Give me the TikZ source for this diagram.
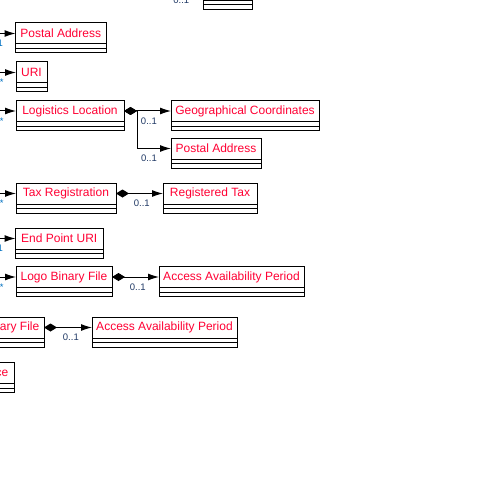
\documentclass[tikz,border=0pt]{standalone}
\usepackage{fontspec}
\setmainfont{Liberation Sans}
\definecolor{titlered}{HTML}{FF0033}
\definecolor{cardnavy}{HTML}{1F3864}
\definecolor{multblue}{HTML}{0070C0}
\usepackage{tikz}
\usetikzlibrary{arrows.meta, positioning, calc}

\tikzset{
  classbox/.style={draw, line width=1pt, anchor=north west, outer sep=0pt, inner sep=0pt,
    minimum height=21pt, font=\fontsize{12}{14}\selectfont, text=titlered},
  member/.style={-{Latex[length=11pt,width=7pt]}, line width=1pt},
  part/.style={{Diamond[length=13pt,width=8pt]}-{Latex[length=11pt,width=7pt]}, line width=1pt},
  card/.style={font=\fontsize{9.5}{10}\selectfont, text=cardnavy, inner sep=1pt, below=5pt},
  mult/.style={font=\fontsize{9.5}{10}\selectfont, text=multblue, inner sep=1pt, below=5pt},
}
\newcommand{\classparts}[1]{%
  \draw[line width=1pt] (#1.south west) rectangle ($(#1.south east)+(0,9)$);
  \draw[line width=1pt] ($(#1.south west)+(0,4.5)$) -- ($(#1.south east)+(0,4.5)$);}

\begin{document}
\begin{tikzpicture}[x=1pt, y=-1pt]
  \useasboundingbox (0,0) rectangle (500,500);
  \clip (0,0) rectangle (500,500);

  \node[classbox, minimum width=49pt] (tp) at (203,-20.5) {};
  \node[classbox, minimum width=90.5pt] (pa) at (15.5,23) {Postal Address};
  \node[classbox, minimum width=31pt] (uri) at (16,62) {URI};
  \node[classbox, minimum width=108pt] (ll) at (16,100.5) {Logistics Location};
  \node[classbox, minimum width=148pt] (geo) at (171,100.5) {Geographical Coordinates};
  \node[classbox, minimum width=90pt] (llpa) at (171,138) {Postal Address};
  \node[classbox, minimum width=100pt] (tax) at (16,183) {Tax Registration};
  \node[classbox, minimum width=94pt] (regtax) at (163,183) {Registered Tax};
  \node[classbox, minimum width=87.5pt] (epuri) at (15.5,228) {End Point URI};
  \node[classbox, minimum width=96pt] (logo) at (16,266.5) {Logo Binary File};
  \node[classbox, minimum width=145pt] (aap) at (159,266.5) {Access Availability Period};
  \node[classbox, minimum width=96pt] (logob) at (-52,317) {Logo Binary File};
  \node[classbox, minimum width=145pt] (aapb) at (92,317) {Access Availability Period};
  \node[classbox, minimum width=74.7pt, text width=62pt, align=right] (cebox) at (-60,362.5) {ce};

  \classparts{tp}
  \classparts{pa}
  \classparts{uri}
  \classparts{ll}
  \classparts{geo}
  \classparts{llpa}
  \classparts{tax}
  \classparts{regtax}
  \classparts{epuri}
  \classparts{logo}
  \classparts{aap}
  \classparts{logob}
  \classparts{aapb}
  \classparts{cebox}

  \coordinate (tpsrc) at (150,-10);
  \coordinate (pasrc) at (-20,33.5);
  \coordinate (urisrc) at (-20,72.5);
  \coordinate (llsrc) at (-20,111);
  \coordinate (taxsrc) at (-20,193.5);
  \coordinate (episrc) at (-20,238.5);
  \coordinate (logosrc) at (-20,277);

  \draw[part] (tpsrc) -- node[card, pos=0.59] {0..1} (tp.west);
  \draw[member] (pasrc) -- node[mult, pos=0.57] {1} (pa.west);
  \draw[member] (urisrc) -- node[mult, pos=0.6] {*} (uri.west);
  \draw[member] (llsrc) -- node[mult, pos=0.6] {*} (ll.west);
  \draw[member] (taxsrc) -- node[mult, pos=0.6] {*} (tax.west);
  \draw[member] (episrc) -- node[mult, pos=0.57] {1} (epuri.west);
  \draw[member] (logosrc) -- node[mult, pos=0.6] {*} (logo.west);

  \draw[part] (ll.east) -- node[card, pos=0.53] {0..1} (geo.west);
  \draw[part] (ll.east) -- ++(13,0) |- node[card, pos=0.676] {0..1} (llpa.west);
  \draw[part] (tax.east) -- node[card, pos=0.55] {0..1} (regtax.west);
  \draw[part] (logo.east) -- node[card, pos=0.55] {0..1} (aap.west);
  \draw[part] (logob.east) -- node[card, pos=0.56] {0..1} (aapb.west);
\end{tikzpicture}
\end{document}
